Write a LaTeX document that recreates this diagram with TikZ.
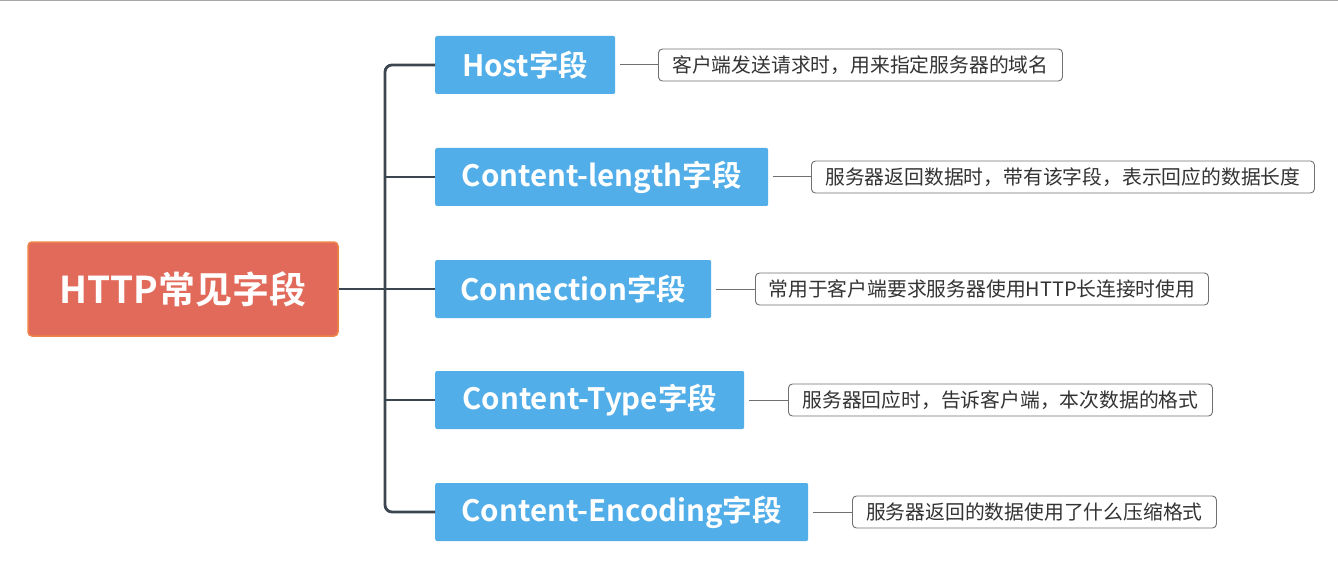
\documentclass[tikz,border=0pt]{standalone}
\usepackage{fontspec}
\setmainfont{Noto Sans CJK SC}
\newfontfamily\cjkbold{Noto Sans CJK SC Bold}
\usetikzlibrary{calc}
\definecolor{rootfill}{HTML}{E26A5B}
\definecolor{rootedge}{HTML}{EE8448}
\definecolor{bluefill}{HTML}{52AEE8}
\definecolor{trunkcol}{HTML}{3C4650}
\definecolor{descedge}{HTML}{707070}
\definecolor{desctext}{HTML}{333333}
\tikzset{
  rootbox/.style={draw=rootedge, line width=1.5pt, fill=rootfill, rounded corners=4pt,
    minimum width=310pt, minimum height=94pt, inner sep=0pt,
    font=\cjkbold\fontsize{37}{40}\selectfont, text=white},
  fieldbox/.style={fill=bluefill, rounded corners=2pt, minimum height=58pt, inner sep=0pt,
    anchor=west, font=\cjkbold\fontsize{29.5}{32}\selectfont, text=white},
  descbox/.style={draw=descedge, line width=0.9pt, fill=white, rounded corners=4pt,
    minimum height=32pt, inner sep=0pt, anchor=west,
    font=\fontsize{19.8}{22}\selectfont, text=desctext},
  trunk/.style={draw=trunkcol, line width=2.8pt},
  twig/.style={draw=descedge, line width=1pt, shorten <=5pt},
}
\begin{document}
\begin{tikzpicture}[x=1pt,y=1pt]
\useasboundingbox (0,0) rectangle (1338,574);
\draw[gray!70, line width=1.2pt] (0,573.4) -- (1338,573.4);
\node[rootbox] (root) at (183,285) {HTTP常见字段};
\node[fieldbox, minimum width=180pt] (h1) at (435,509) {Host字段};
\node[fieldbox, minimum width=333pt] (h2) at (435,397) {Content-length字段};
\node[fieldbox, minimum width=276pt] (h3) at (435,285) {Connection字段};
\node[fieldbox, minimum width=309pt] (h4) at (435,174) {Content-Type字段};
\node[fieldbox, minimum width=373pt] (h5) at (435,62) {Content-Encoding字段};
\node[descbox, minimum width=404pt] (d1) at (658,509) {客户端发送请求时，用来指定服务器的域名};
\node[descbox, minimum width=503pt] (d2) at (811,397) {服务器返回数据时，带有该字段，表示回应的数据长度};
\node[descbox, minimum width=453pt] (d3) at (755,285) {常用于客户端要求服务器使用HTTP长连接时使用};
\node[descbox, minimum width=424pt] (d4) at (788,174) {服务器回应时，告诉客户端，本次数据的格式};
\node[descbox, minimum width=364pt] (d5) at (852,62) {服务器返回的数据使用了什么压缩格式};
\coordinate (spine) at (385,0);
\draw[trunk, rounded corners=7pt] (h1.west) -- (h1.west -| spine) -- (h5.west -| spine) -- (h5.west);
\draw[trunk] (h2.west -| spine) -- (h2.west);
\draw[trunk] (h4.west -| spine) -- (h4.west);
\draw[trunk] (root.east) -- (h3.west);
\foreach \i in {1,...,5}{
  \draw[twig] (h\i.east) -- (d\i.west);
}
\end{tikzpicture}
\end{document}
